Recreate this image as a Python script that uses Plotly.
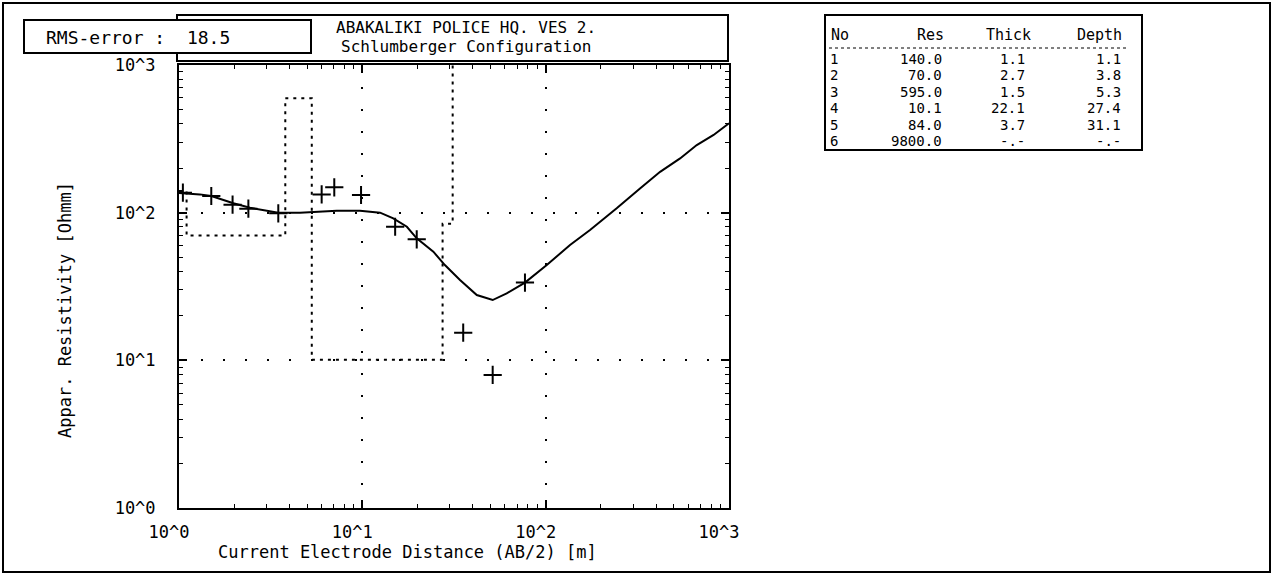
import plotly.graph_objects as go

# ---------------- data ----------------
ab2 = [1.05, 1.5, 1.96, 2.39, 3.48, 6.0, 7.03, 9.84, 15.1, 19.8, 35.5, 51.4, 77.1]
rho_obs = [136.5, 129.7, 113.2, 106.4, 99.0, 133.0, 148.5, 131.7, 80.3, 66.0, 15.4, 7.96, 33.6]

curve_x = [1.0, 1.30, 1.50, 1.98, 2.44, 3.48, 4.57, 7.25, 9.71, 12.5, 14.75, 17.5,
           19.8, 24.4, 28.2, 34.1, 42.1, 51.4, 61.3, 77.1, 101.4, 135.8, 174.6,
           244, 327, 421, 541, 667, 824, 1000]
curve_y = [136, 133, 129.7, 115.7, 108, 100, 100, 103, 103, 100, 91.6, 80.3,
           67, 54.4, 44.2, 35, 27.7, 25.6, 28.4, 33.6, 44.2, 60.4, 76.4,
           107, 146, 189, 233, 287, 336, 403]

layer_no = [1, 2, 3, 4, 5, 6]
layer_res = [140.0, 70.0, 595.0, 10.1, 84.0, 9800.0]
layer_thick = [1.1, 2.7, 1.5, 22.1, 3.7, None]
layer_depth = [1.1, 3.8, 5.3, 27.4, 31.1, None]

rms_error = 18.5
title_lines = ["ABAKALIKI POLICE HQ. VES 2.", "Schlumberger Configuration"]
tick_vals = [1, 10, 100, 1000]
tick_text = ["10^0", "10^1", "10^2", "10^3"]

# ---------------- layout geometry (pixels) ----------------
W, H = 1278, 574
PL, PR, PT, PB = 179, 729, 65, 508
FONT = "DejaVu Sans Mono"


def fx(x):
    return (x - PL) / (PR - PL)


def fy(y):
    return (PB - y) / (PB - PT)


# model staircase built from the layer table
x_min, x_max = 1.0, 1000.0
mx, my = [x_min], [layer_res[0]]
for i, d in enumerate(layer_depth[:-1]):
    mx += [d, d]
    my += [layer_res[i], layer_res[i + 1]]
mx.append(x_max)
my.append(layer_res[-1])

fig = go.Figure()
fig.add_trace(go.Scatter(x=mx, y=my, mode="lines",
                         line=dict(color="black", width=2, dash="3px,5px"),
                         hoverinfo="skip", showlegend=False))
fig.add_trace(go.Scatter(x=curve_x, y=curve_y, mode="lines",
                         line=dict(color="black", width=2),
                         showlegend=False))
fig.add_trace(go.Scatter(x=ab2, y=rho_obs, mode="markers",
                         marker=dict(symbol="cross-thin", size=13,
                                     line=dict(color="black", width=2)),
                         showlegend=False))

minor_vals = [m * 10 ** e for e in range(3) for m in range(2, 10)]
axis_common = dict(
    type="log", range=[0, 3], tickmode="array", tickvals=tick_vals, ticktext=tick_text,
    ticks="inside", ticklen=8, tickwidth=1.5, tickcolor="black",
    showline=True, linewidth=2, linecolor="black", mirror="ticks",
    showgrid=True, gridcolor="black", gridwidth=2, griddash="2px,20px",
    zeroline=False, tickfont=dict(family=FONT, size=17, color="black"),
    minor=dict(tickvals=minor_vals, ticks="inside", ticklen=4, tickwidth=1,
               tickcolor="black", showgrid=False),
)
fig.update_xaxes(**axis_common, ticklabelstandoff=8, ticklabelshift=-10)
fig.update_yaxes(**axis_common, ticklabelstandoff=18)

shapes = []


def rect(x0, y0, x1, y1, fill=None, width=2):
    shapes.append(dict(type="rect", xref="paper", yref="paper",
                       x0=fx(x0), x1=fx(x1), y0=fy(y0), y1=fy(y1),
                       line=dict(color="black", width=width),
                       fillcolor=fill if fill else "rgba(0,0,0,0)", layer="above"))


rect(3, 3, 1270, 572, width=2)          # outer frame
rect(177, 15, 728, 61)                  # title box
rect(24, 20, 311, 53, fill="white")     # RMS box
rect(825, 15, 1142, 150)                # table box
shapes.append(dict(type="line", xref="paper", yref="paper",
                   x0=fx(829), x1=fx(1126), y0=fy(48), y1=fy(48),
                   line=dict(color="black", width=1, dash="dot"), layer="above"))

ann = []


def text(x, y, s, xanchor="left", size=17, angle=0):
    ann.append(dict(xref="paper", yref="paper", x=fx(x), y=fy(y), text=s,
                    showarrow=False, xanchor=xanchor, yanchor="middle",
                    textangle=angle, borderpad=0,
                    font=dict(family=FONT, size=size, color="black")))


nb = "\u00a0"
text(45, 37, f"RMS-error{nb}:{nb}{nb}{rms_error}", size=18)
text(466, 28, title_lines[0], xanchor="center", size=16)
text(466, 47, title_lines[1], xanchor="center", size=16)
text(217, 552, "Current Electrode Distance (AB/2) [m]")
text(65, 310, "Appar. Resistivity [Ohmm]", xanchor="center", angle=-90)

# table
text(830, 35, "No", size=15)
text(945, 35, "Res", xanchor="right", size=15)
text(1032, 35, "Thick", xanchor="right", size=15)
text(1123, 35, "Depth", xanchor="right", size=15)
for i in range(len(layer_no)):
    yrow = 59 + i * 16.4
    text(829, yrow, str(layer_no[i]), size=14)
    text(943, yrow, f"{layer_res[i]:.1f}", xanchor="right", size=14)
    th = "-.-" if layer_thick[i] is None else f"{layer_thick[i]:.1f}"
    dp = "-.-" if layer_depth[i] is None else f"{layer_depth[i]:.1f}"
    text(1026, yrow, th, xanchor="right", size=14)
    text(1122, yrow, dp, xanchor="right", size=14)

fig.update_layout(
    width=W, height=H, autosize=False,
    margin=dict(l=PL, r=W - PR, t=PT, b=H - PB, pad=0),
    paper_bgcolor="white", plot_bgcolor="white",
    shapes=shapes, annotations=ann, showlegend=False,
)

fig.write_html("out.html", config={"displayModeBar": False},
               post_script="document.body.style.margin='0';")
